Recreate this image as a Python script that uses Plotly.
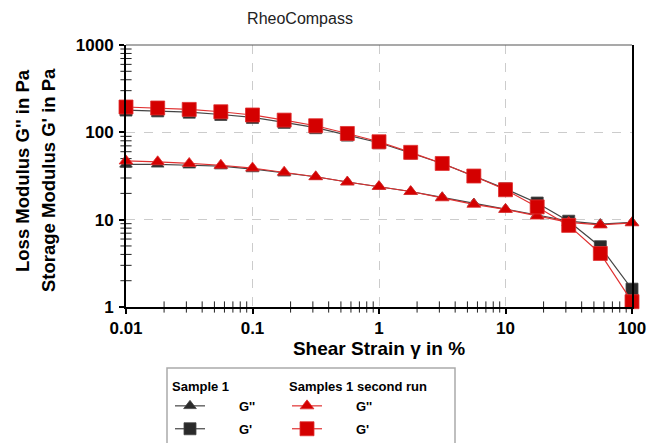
import plotly.graph_objects as go

strain = [0.01, 0.0178, 0.0316, 0.0562, 0.1, 0.178, 0.316, 0.562, 1.0, 1.78,
          3.16, 5.62, 10.0, 17.8, 31.6, 56.2, 100.0]

s1_Gpp = [43, 43, 42, 41, 38, 34, 31, 27, 24, 21, 18, 15.3, 13.2, 11.3, 9.6, 8.9, 9.3]
s1_Gp = [180, 176, 170, 160, 148, 130, 113, 93, 76, 58, 44, 31.5, 22.5, 15.5, 9.6, 4.9, 1.6]
s2_Gpp = [47, 46, 44, 42, 39, 35, 31, 27, 24, 21, 17.8, 15, 13.1, 11, 9.3, 8.7, 9.2]
s2_Gp = [195, 190, 183, 172, 158, 138, 119, 97, 78, 59, 44, 31.6, 22, 14, 8.6, 4.1, 1.15]

legend_titles = ["Sample 1", "Samples 1 second run"]
series_names = ["G''", "G'"]

X_RANGE = [0.01, 100]
Y_RANGE = [1, 1000]
minor_x = [m * 10 ** e for e in range(-2, 2) for m in range(2, 10)]
minor_y = [m * 10 ** e for e in range(0, 3) for m in range(2, 10)]

FONT = "Arial, Liberation Sans, sans-serif"
BLACK = "#2a2a2a"
RED = "#d40000"
PAD = "\u00a0" * 8

# plot area in pixels
L, R, T, B = 126, 632, 45, 307
W, H = 655, 443
def px_x(p):
    return (p - L) / (R - L)
def px_y(p):
    return (B - p) / (B - T)

fig = go.Figure()

# minor tick marks along the axes (log decades 2..9)
tick_marker = dict(color="#222222", line=dict(color="#222222", width=1), size=8)
fig.add_trace(go.Scatter(x=minor_x, y=[Y_RANGE[0]] * len(minor_x), mode="markers",
                         marker=dict(tick_marker, symbol="line-ns-open"),
                         cliponaxis=False, showlegend=False, hoverinfo="skip"))
fig.add_trace(go.Scatter(x=[X_RANGE[0]] * len(minor_y), y=minor_y, mode="markers",
                         marker=dict(tick_marker, symbol="line-ew-open"),
                         cliponaxis=False, showlegend=False, hoverinfo="skip"))

def add(y, color, lcolor, symbol, size, name, legend, group):
    fig.add_trace(go.Scatter(
        x=strain, y=y, mode="lines+markers", name=PAD + name, legend=legend,
        legendgroup=group, cliponaxis=False,
        line=dict(color=lcolor, width=1.2),
        marker=dict(symbol=symbol, size=size, color=color,
                    line=dict(color=lcolor, width=0.8)),
    ))

add(s1_Gpp, BLACK, "#444444", "triangle-up", 11, series_names[0], "legend", "a")
add(s1_Gp, BLACK, "#444444", "square", 12, series_names[1], "legend", "b")
add(s2_Gpp, RED, "#e03030", "triangle-up", 12, series_names[0], "legend2", "c")
add(s2_Gp, RED, "#e03030", "square", 14, series_names[1], "legend2", "d")

axis_common = dict(
    type="log", showline=True, linecolor="black", linewidth=2,
    tickmode="linear", tick0=0, dtick=1, exponentformat="none",
    ticks="outside", ticklen=5, tickcolor="black", tickwidth=1.5,
    showgrid=True, gridcolor="#cccccc", griddash="dash", gridwidth=1,
    zeroline=False,
    tickfont=dict(family=FONT, size=17, color="black", weight="bold"),
)

leg_common = dict(xanchor="left", yanchor="top",
                  font=dict(size=13, family=FONT, weight="bold"),
                  itemwidth=30, bgcolor="rgba(0,0,0,0)", borderwidth=0,
                  tracegroupgap=3)

fig.update_layout(
    width=W, height=H,
    margin=dict(l=L, r=W - R, t=T, b=H - B, pad=0, autoexpand=False),
    paper_bgcolor="white", plot_bgcolor="white",
    font=dict(family=FONT, color="black"),
    showlegend=True,
    xaxis=dict(axis_common, range=[-2, 2],
               title=dict(text="<b>Shear Strain γ in %</b>",
                          font=dict(size=19, family=FONT), standoff=4)),
    yaxis=dict(axis_common, range=[0, 3],
               mirror=True, ticklabelstandoff=2),
    legend=dict(leg_common, x=px_x(170), y=px_y(374),
                title=dict(text="<b>" + legend_titles[0] + "</b>",
                           font=dict(size=13, family=FONT))),
    legend2=dict(leg_common, x=px_x(287), y=px_y(374),
                 title=dict(text="<b>" + legend_titles[1] + "</b>",
                            font=dict(size=13, family=FONT))),
    title=dict(text="RheoCompass", x=(300) / W,
               xanchor="center", y=1 - 18 / H, yanchor="middle",
               font=dict(size=16, family=FONT, color="#222")),
)

# top border line (thin)
fig.add_shape(type="line", xref="paper", yref="paper", x0=0, x1=1, y0=1, y1=1,
              line=dict(color="#555555", width=1.2))
# legend box
fig.add_shape(type="rect", xref="paper", yref="paper",
              x0=px_x(167), x1=px_x(455), y0=px_y(368), y1=px_y(460),
              line=dict(color="#aaaaaa", width=1.5))

# y-axis titles
fig.add_annotation(text="<b>Loss Modulus G'' in Pa</b>", xref="paper", yref="paper",
                   x=px_x(22), y=px_y(171), textangle=-90, showarrow=False,
                   xanchor="center", yanchor="middle",
                   font=dict(size=18.5, family=FONT, color="black"))
fig.add_annotation(text="<b>Storage Modulus G' in Pa</b>", xref="paper", yref="paper",
                   x=px_x(48), y=px_y(180), textangle=-90, showarrow=False,
                   xanchor="center", yanchor="middle",
                   font=dict(size=18.5, family=FONT, color="black"))

fig.write_html("out.html")
